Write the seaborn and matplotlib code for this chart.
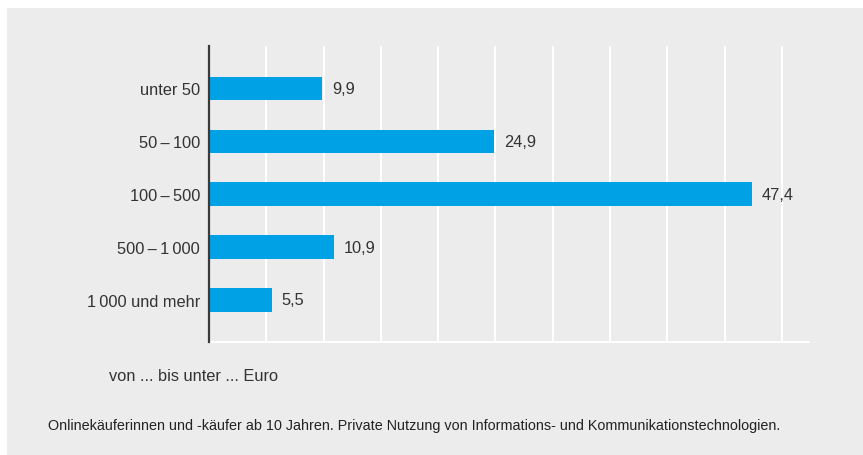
import matplotlib
matplotlib.use("Agg")
import matplotlib.pyplot as plt
from matplotlib.patches import Rectangle
import seaborn as sns
import pandas as pd

# Ausgaben für Onlinekäufe, Anteil in %
categories = ["unter 50", "50\u2009–\u2009100", "100\u2009–\u2009500",
              "500\u2009–\u20091\u2009000", "1\u2009000 und mehr"]
shares = [9.9, 24.9, 47.4, 10.9, 5.5]
value_labels = ["9,9", "24,9", "47,4", "10,9", "5,5"]
grid_ticks = [5, 10, 15, 20, 25, 30, 35, 40, 45, 50]

axis_title = "von ... bis unter ... Euro"
footnote = ("Onlinekäuferinnen und -käufer ab 10 Jahren. Private Nutzung von "
            "Informations- und Kommunikationstechnologien.")

sns.set_theme(style="white")
plt.rcParams["font.family"] = ["Liberation Sans", "DejaVu Sans"]

BG = "#ececec"
BAR = "#00a2e5"
TXT = "#333333"

W, H = 863, 456
fig = plt.figure(figsize=(W / 100, H / 100), dpi=100, facecolor="white")

# grey panel behind the chart
fig.patches.append(Rectangle((7 / W, 0), 1 - 7 / W, (H - 9) / H,
                             transform=fig.transFigure, facecolor=BG,
                             edgecolor="none", zorder=-10))

ax = fig.add_axes([209 / W, (H - 342.7) / H, 600 / W, (342.7 - 47) / H])
ax.set_facecolor(BG)

df = pd.DataFrame({"Kategorie": categories, "Anteil": shares})
sns.barplot(data=df, x="Anteil", y="Kategorie", orient="h", color=BAR,
            saturation=1, width=0.44, linewidth=0, edgecolor="none",
            ax=ax, zorder=3)

ax.set_xlim(0, 52.36)
ax.set_ylim(4.79, -0.8)

ax.set_xticks(grid_ticks)
ax.set_xticklabels([])
ax.tick_params(axis="x", length=0)
ax.tick_params(axis="y", length=0, pad=6.5, labelsize=11.8, labelcolor=TXT)
ax.grid(axis="x", color="white", linewidth=1.5, zorder=1)
ax.set_axisbelow(True)

for side in ("top", "right"):
    ax.spines[side].set_visible(False)
ax.spines["bottom"].set_color("white")
ax.spines["bottom"].set_linewidth(1.5)
ax.spines["left"].set_color("#3a3a3a")
ax.spines["left"].set_linewidth(1.6)
ax.spines["left"].set_zorder(5)

ax.set_xlabel("")
ax.set_ylabel("")

for i, (v, lab) in enumerate(zip(shares, value_labels)):
    ax.annotate(lab, xy=(v, i), xytext=(7, 0), textcoords="offset points",
                ha="left", va="center", fontsize=11.8, color=TXT)

fig.text(109 / W, 1 - 377 / H, axis_title, ha="left", va="center",
         fontsize=11.8, color=TXT)
fig.text(48 / W, 1 - 426 / H, footnote, ha="left", va="center",
         fontsize=10.4, color="#222222")

fig.savefig("out.png", dpi=100, facecolor="white")
